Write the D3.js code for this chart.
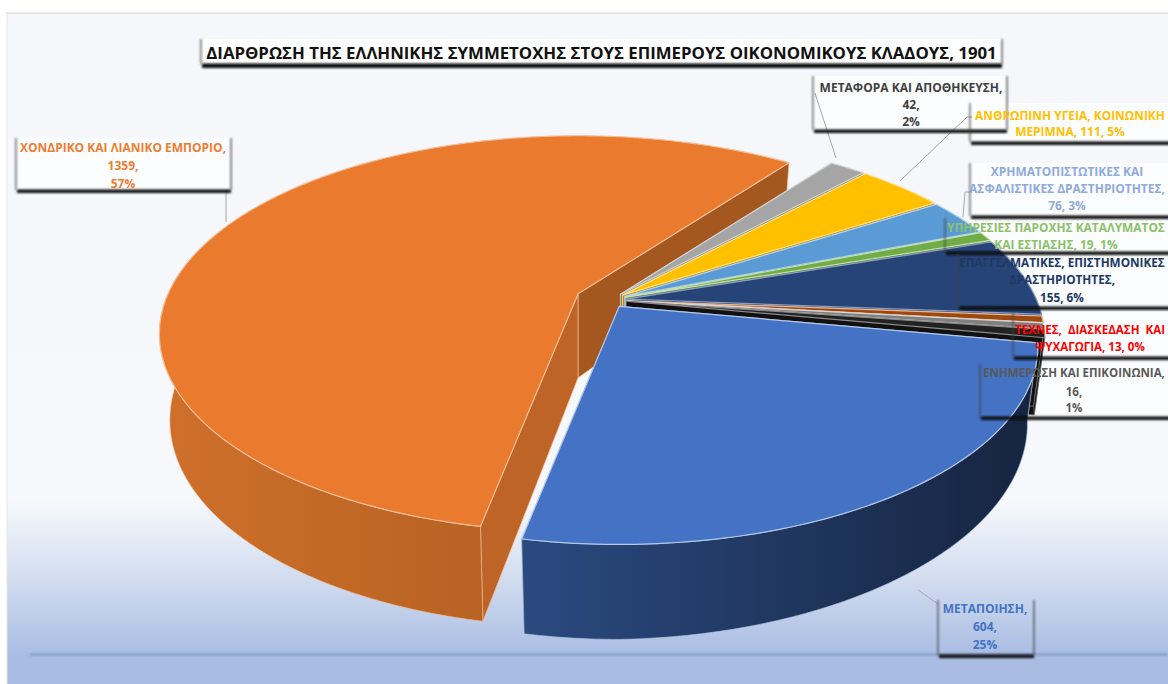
<!DOCTYPE html>
<html><head><meta charset="utf-8">
<script src="https://cdn.jsdelivr.net/npm/d3@7/dist/d3.min.js"></script>
<style>html,body{margin:0;padding:0;background:#fff;overflow:hidden}svg{display:block}text{font-family:"Open Sans","Noto Sans",sans-serif}</style>
</head><body><svg id="c" width="1168" height="684"></svg>
<script>
// ---- data (clockwise, starting with the largest slice)
const categories = ["ΧΟΝΔΡΙΚΟ ΚΑΙ ΛΙΑΝΙΚΟ ΕΜΠΟΡΙΟ","ΜΕΤΑΦΟΡΑ ΚΑΙ ΑΠΟΘΗΚΕΥΣΗ","ΑΝΘΡΩΠΙΝΗ ΥΓΕΙΑ, ΚΟΙΝΩΝΙΚΗ ΜΕΡΙΜΝΑ","ΧΡΗΜΑΤΟΠΙΣΤΩΤΙΚΕΣ ΚΑΙ ΑΣΦΑΛΙΣΤΙΚΕΣ ΔΡΑΣΤΗΡΙΟΤΗΤΕΣ","ΥΠΗΡΕΣΙΕΣ ΠΑΡΟΧΗΣ ΚΑΤΑΛΥΜΑΤΟΣ ΚΑΙ ΕΣΤΙΑΣΗΣ","ΕΠΑΓΓΕΛΜΑΤΙΚΕΣ, ΕΠΙΣΤΗΜΟΝΙΚΕΣ ΔΡΑΣΤΗΡΙΟΤΗΤΕΣ","ΤΕΧΝΕΣ, ΔΙΑΣΚΕΔΑΣΗ ΚΑΙ ΨΥΧΑΓΩΓΙΑ","(χωρίς ετικέτα)","ΕΝΗΜΕΡΩΣΗ ΚΑΙ ΕΠΙΚΟΙΝΩΝΙΑ","ΜΕΤΑΠΟΙΗΣΗ"];
const values = [1359,42,111,76,19,155,13,12,16,604];
const explosion = [0.085,0.04,0.04,0.04,0.04,0.04,0.04,0.04,0.04,0.04];
const sliceColors = ["#e97a2e","#a5a5a5","#ffc000","#5b9bd5","#70ad47","#264478","#9e480e","#7f7f7f","#222222","#4472c4"];
const edgeColors  = ["#f6bd98","#d2d2d2","#ffe08a","#b0d0ee","#c6e0b4","#8c9fc0","#e6b89a","#d8d8d8","#8a8a8a","#b4c7e7"];
const wallFrom    = ["#cf702a","#7f7f7f","#b88a00","#3f72a0","#4f7a33","#1c3359","#74350b","#5f5f5f","#111111","#2a4a80"];
const wallTo      = ["#a0561e","#6a6a6a","#a07800","#305a80","#406328","#15294a","#5f2b09","#4c4c4c","#111111","#16243f"];
const cutFaceStart= ["#bd6426","#7f7f7f","#b88a00","#3f72a0","#4f7a33","#1c3359","#74350b","#5f5f5f","#111111","#2a4a80"];
const cutFaceEnd  = ["#a4581f","#7f7f7f","#b88a00","#3f72a0","#4f7a33","#1c3359","#74350b","#5f5f5f","#111111","#2a4a80"];
const titleText = "ΔΙΑΡΘΡΩΣΗ ΤΗΣ ΕΛΛΗΝΙΚΗΣ ΣΥΜΜΕΤΟΧΗΣ ΣΤΟΥΣ ΕΠΙΜΕΡΟΥΣ ΟΙΚΟΝΟΜΙΚΟΥΣ ΚΛΑΔΟΥΣ, 1901";

// ---- label texts, colours
const labelLines = [
 ["ΧΟΝΔΡΙΚΟ ΚΑΙ ΛΙΑΝΙΚΟ ΕΜΠΟΡΙΟ,","1359,","57%"],
 ["ΜΕΤΑΦΟΡΑ ΚΑΙ ΑΠΟΘΗΚΕΥΣΗ,","42,","2%"],
 ["ΑΝΘΡΩΠΙΝΗ ΥΓΕΙΑ, ΚΟΙΝΩΝΙΚΗ","ΜΕΡΙΜΝΑ, 111, 5%"],
 ["ΧΡΗΜΑΤΟΠΙΣΤΩΤΙΚΕΣ ΚΑΙ","ΑΣΦΑΛΙΣΤΙΚΕΣ ΔΡΑΣΤΗΡΙΟΤΗΤΕΣ,","76, 3%"],
 ["ΥΠΗΡΕΣΙΕΣ ΠΑΡΟΧΗΣ ΚΑΤΑΛΥΜΑΤΟΣ","ΚΑΙ ΕΣΤΙΑΣΗΣ, 19, 1%"],
 ["ΕΠΑΓΓΕΛΜΑΤΙΚΕΣ, ΕΠΙΣΤΗΜΟΝΙΚΕΣ","ΔΡΑΣΤΗΡΙΟΤΗΤΕΣ,","155, 6%"],
 ["ΤΕΧΝΕΣ,  ΔΙΑΣΚΕΔΑΣΗ  ΚΑΙ","ΨΥΧΑΓΩΓΙΑ, 13, 0%"],
 ["ΕΝΗΜΕΡΩΣΗ ΚΑΙ ΕΠΙΚΟΙΝΩΝΙΑ,","16,","1%"],
 ["ΜΕΤΑΠΟΙΗΣΗ,","604,","25%"]
];
const labelColors = ["#ed7d31","#404040","#ffc000","#8faadc","#8cc168","#203864","#ff0000","#595959","#4472c4"];

// ---- layout (kept apart from the data)
const labelBoxes = [
 {x:16,y:138,w:215,h:52,cx:123,ly:[147,165,183]},
 {x:813,y:76,w:194,h:54,cx:911,ly:[87,104,121]},
 {x:970,y:103,w:210,h:39,cx:1070,ly:[115,131]},
 {x:970,y:163,w:210,h:53,cx:1067,ly:[171,188,205]},
 {x:945,y:218,w:235,h:34,cx:1056,ly:[227,244]},
 {x:958,y:253,w:222,h:54,cx:1062,ly:[262,279,297]},
 {x:1013,y:311,w:170,h:46,cx:1090,ly:[329,346]},
 {x:980,y:364,w:200,h:53,cx:1074,ly:[372,391,407]},
 {x:938,y:600,w:96,h:55,cx:985,ly:[608,626,644]}
];
const boxWhite = [0.7,0.7,0.7,0.7,0.7,0.7,0.7,0.7,0];
const leaders = [
 [[226,190],[226,222]],
 [[815,93],[836,158]],
 [[900,181],[967,117],[972,117]],
 [[963,217],[965,192],[972,192]],
 [[918,590],[938,604]]
];
const W=1168,H=684;
const center={x:610,y:300}, RX=410, RY=190, P=0.202, startDeg=191;

const svg=d3.select("#c");
const defs=svg.append("defs");
const bg=defs.append("linearGradient").attr("id","bg").attr("x1",0).attr("x2",0).attr("y1",0).attr("y2",1);
[[0,"#f5f7fb"],[0.76,"#f6f8fc"],[0.87,"#d5dff0"],[1,"#a9bde3"]].forEach(s=>bg.append("stop").attr("offset",s[0]).attr("stop-color",s[1]));
defs.append("filter").attr("id","soft").attr("filterUnits","userSpaceOnUse").attr("x",0).attr("y",0).attr("width",W).attr("height",H)
  .append("feGaussianBlur").attr("stdDeviation",0.9);
defs.append("filter").attr("id","softL").attr("filterUnits","userSpaceOnUse").attr("x",0).attr("y",0).attr("width",W).attr("height",H)
  .append("feGaussianBlur").attr("stdDeviation",0.8);

// background
svg.append("rect").attr("width",W).attr("height",H).attr("fill","#fff");
svg.append("rect").attr("x",7).attr("y",13).attr("width",W-7).attr("height",642).attr("fill","url(#bg)");
svg.append("rect").attr("x",7).attr("y",655).attr("width",W-7).attr("height",29).attr("fill","#a9bde3");
svg.append("rect").attr("x",6).attr("y",12.5).attr("width",W-6).attr("height",1.2).attr("fill","#dcdcdc");
svg.append("rect").attr("x",6.5).attr("y",13).attr("width",1).attr("height",H-13).attr("fill","#e6e6e6");
svg.append("rect").attr("x",30).attr("y",653.6).attr("width",W-30).attr("height",1.8).attr("fill","#7f93b8").attr("filter","url(#soft)");

// whitened label interiors lie under the pie
labelBoxes.forEach((b,i)=>svg.append("rect").attr("x",b.x).attr("y",b.y).attr("width",b.w).attr("height",b.h).attr("fill","#fff").attr("opacity",boxWhite[i]));

// pie geometry: d3.pie gives the angles, a perspective projection flattens them
const pie=d3.pie().sort(null).startAngle(startDeg*Math.PI/180).endAngle((startDeg+360)*Math.PI/180);
const arcs=pie(values);
const rad=Math.PI/180;
// the picture's 3D view stretches the far right slightly: a small local angle warp
const warp=a=>{const t=(((a/rad)%360+360)%360-36)/15;return a+2.5*rad*Math.exp(-t*t);};
const proj=(a,r)=>{const b=warp(a),u=r*Math.sin(b),v=-r*Math.cos(b),w=1-P*v;return {x:RX*u/w,y:RY*v/w,v,u};};
const wall=(v,u)=>84+11*v-9*Math.max(0,u);
const BOTTOM_X=0.975;
const line=d3.line().x(d=>d[0]).y(d=>d[1]);

arcs.forEach((d,i)=>{
  const mid=(d.startAngle+d.endAngle)/2, off=proj(mid,explosion[i]);
  const ax=center.x+off.x, ay=center.y+off.y;
  const steps=Math.max(3,Math.ceil((d.endAngle-d.startAngle)/0.015));
  const angs=d3.range(steps+1).map(k=>d.startAngle+(d.endAngle-d.startAngle)*k/steps);
  const rim=angs.map(a=>{const p=proj(a,1);return {x:ax+p.x,y:ay+p.y,v:p.v,bx:ax+p.x*BOTTOM_X,by:ay+p.y+wall(p.v,p.u)};});
  const top=[[ax,ay],...rim.map(p=>[p.x,p.y])];
  const s=rim[0], e=rim[rim.length-1], h0=84;

  const gid="w"+i, xs=rim.map(p=>p.x);
  const g=defs.append("linearGradient").attr("id",gid).attr("gradientUnits","userSpaceOnUse")
    .attr("x1",d3.min(xs)).attr("x2",d3.max(xs)).attr("y1",0).attr("y2",0);
  g.append("stop").attr("offset",0).attr("stop-color",wallFrom[i]);
  g.append("stop").attr("offset",1).attr("stop-color",wallTo[i]);

  // cut faces first, the visible (near) part of the outer wall over them, the top last
  const face=(p,fill)=>svg.append("path")
    .attr("d",line([[ax,ay],[p.x,p.y],[p.bx,p.by],[ax,ay+h0]])+"Z")
    .attr("fill",fill).attr("stroke",edgeColors[i]).attr("stroke-width",0.7).attr("stroke-linejoin","round");
  face(e,cutFaceEnd[i]);
  face(s,cutFaceStart[i]);
  const near=rim.filter(p=>p.v>=0);
  if(near.length>1){
    svg.append("path").attr("d",line([...near.map(p=>[p.x,p.y]),...near.map(p=>[p.bx,p.by]).reverse()])+"Z")
      .attr("fill","url(#"+gid+")").attr("stroke",edgeColors[i]).attr("stroke-width",0.6);
  }
  svg.append("path").attr("d",line(top)+"Z").attr("fill",sliceColors[i])
    .attr("stroke",edgeColors[i]).attr("stroke-width",1.2).attr("stroke-linejoin","round");
});

// leader lines
leaders.forEach(l=>svg.append("path").attr("d",line(l)).attr("fill","none").attr("stroke","#a6a6a6").attr("stroke-width",1));

// label frames: transparent, with a soft frame and a heavy lower shadow
const frame=(b,thick)=>{
  const g=svg.append("g");
  g.append("rect").attr("x",b.x+1).attr("y",b.y+b.h-0.5).attr("width",b.w-1).attr("height",thick).attr("fill","#0c0c0c").attr("filter","url(#soft)");
  g.append("rect").attr("x",b.x-0.8).attr("y",b.y).attr("width",1.5).attr("height",b.h).attr("fill","#444").attr("opacity",.8).attr("filter","url(#softL)");
  g.append("rect").attr("x",b.x+b.w-0.8).attr("y",b.y).attr("width",1.6).attr("height",b.h).attr("fill","#444").attr("opacity",.8).attr("filter","url(#softL)");
};
labelBoxes.forEach(b=>frame(b,3.5));
labelLines.forEach((ls,i)=>{
  const b=labelBoxes[i];
  const ts=ls.map((t,k)=>svg.append("text").attr("x",b.cx).attr("y",b.ly[k]).attr("text-anchor","middle")
    .attr("dominant-baseline","central").attr("font-size",12).attr("font-weight",700).attr("fill",labelColors[i]).attr("xml:space","preserve").text(t));
  // keep every line inside the window
  const maxLen=d3.max(ts,t=>t.node().getComputedTextLength());
  const room=2*(W-3-b.cx);
  if(maxLen>room) ts.forEach(t=>t.attr("font-size",12*room/maxLen));
});

// title
svg.append("rect").attr("x",201).attr("y",39).attr("width",801).attr("height",25).attr("fill","#fff");
frame({x:201,y:39,w:801,h:25},4.5);
svg.append("text").attr("x",601.5).attr("y",52).attr("text-anchor","middle").attr("dominant-baseline","central")
  .attr("font-size",16.8).attr("font-weight",700).attr("fill","#111").text(titleText);
</script></body></html>
